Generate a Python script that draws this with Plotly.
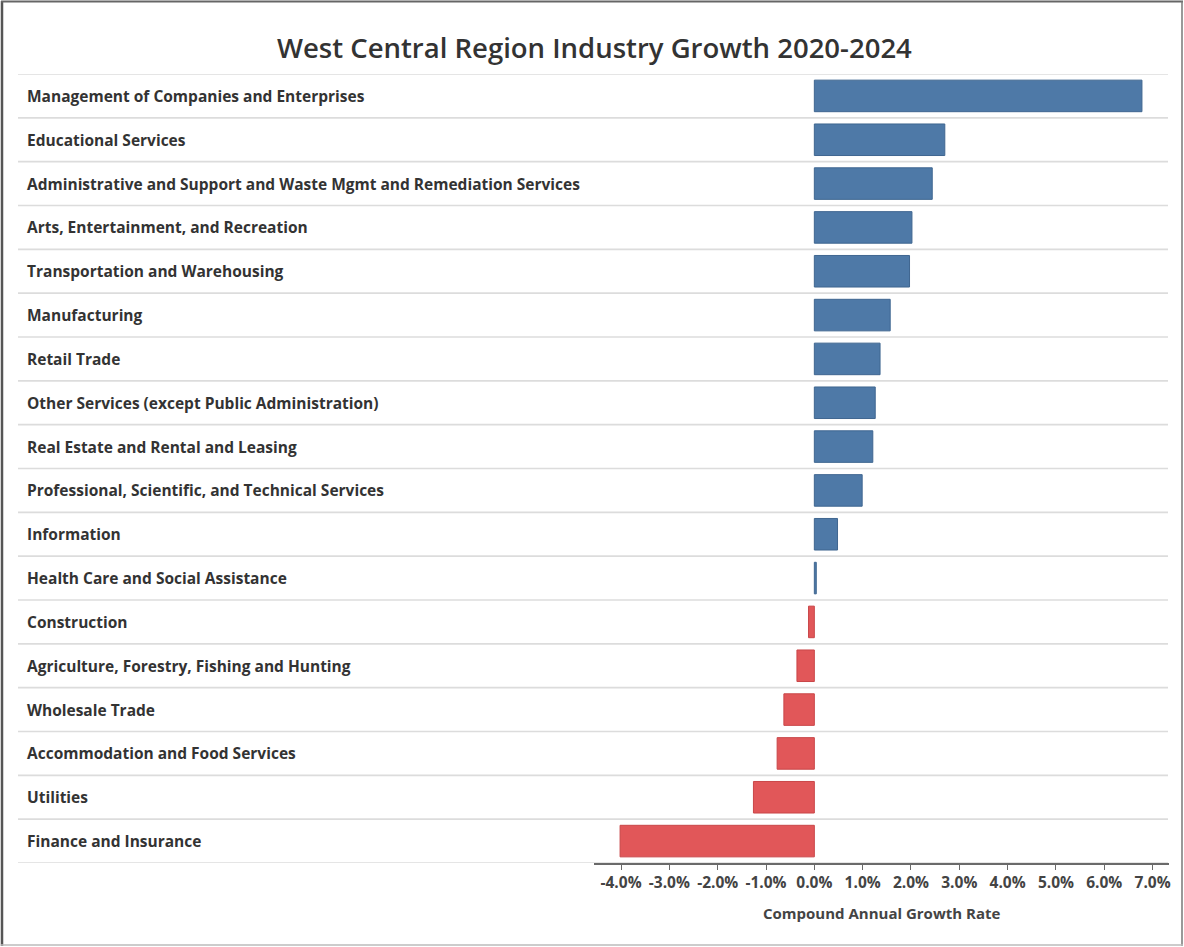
import plotly.graph_objects as go

# Industry growth, compound annual growth rate 2020-2024 (percent)
industries = [
    "Management of Companies and Enterprises",
    "Educational Services",
    "Administrative and Support and Waste Mgmt and Remediation Services",
    "Arts, Entertainment, and Recreation",
    "Transportation and Warehousing",
    "Manufacturing",
    "Retail Trade",
    "Other Services (except Public Administration)",
    "Real Estate and Rental and Leasing",
    "Professional, Scientific, and Technical Services",
    "Information",
    "Health Care and Social Assistance",
    "Construction",
    "Agriculture, Forestry, Fishing and Hunting",
    "Wholesale Trade",
    "Accommodation and Food Services",
    "Utilities",
    "Finance and Insurance",
]
cagr = [6.78, 2.70, 2.44, 2.02, 1.97, 1.57, 1.36, 1.26, 1.21, 0.99,
        0.48, 0.04, -0.12, -0.36, -0.63, -0.77, -1.26, -4.02]
tick_values = [-4, -3, -2, -1, 0, 1, 2, 3, 4, 5, 6, 7]
tick_labels = [f"{v:.1f}%" for v in tick_values]

W, H = 1184, 947
ML, MR, MT, MB = 594, 15, 74, 84
PW = W - ML - MR
PH = H - MT - MB
FONT = "Open Sans"


def px_x(p):
    """Page pixel column -> paper x."""
    return (p - ML) / PW


def px_y(p):
    """Page pixel row -> paper y."""
    return 1 - (p - MT) / PH


BLUE = "#4E79A7"
RED = "#E15759"
colors = [BLUE if v >= 0 else RED for v in cagr]
edges = ["#3f6690" if v >= 0 else "#c94648" for v in cagr]

fig = go.Figure(
    go.Bar(
        x=cagr,
        y=industries,
        orientation="h",
        width=0.72,
        marker=dict(color=colors, line=dict(color=edges, width=1)),
        hoverinfo="skip",
    )
)

shapes = []
# row separators spanning label column and plot area
for i in range(len(industries) + 1):
    shapes.append(dict(
        type="line", xref="paper", yref="y",
        x0=px_x(18), x1=px_x(1168), y0=i - 0.5, y1=i - 0.5,
        line=dict(color="#dcdcdc", width=1.6), layer="below",
    ))
# outer frame
shapes += [
    dict(type="line", xref="paper", yref="paper", x0=px_x(2), x1=px_x(2),
         y0=px_y(1), y1=px_y(946), line=dict(color="#555555", width=2.5)),
    dict(type="line", xref="paper", yref="paper", x0=px_x(1), x1=px_x(1183),
         y0=px_y(1.5), y1=px_y(1.5), line=dict(color="#666666", width=2)),
    dict(type="line", xref="paper", yref="paper", x0=px_x(1182), x1=px_x(1182),
         y0=px_y(1), y1=px_y(946), line=dict(color="#777777", width=1.5)),
    dict(type="line", xref="paper", yref="paper", x0=px_x(1), x1=px_x(1183),
         y0=px_y(945), y1=px_y(945), line=dict(color="#bbbbbb", width=1.5)),
]

annotations = [
    dict(text=name, xref="paper", yref="y", x=px_x(25), y=name,
         xanchor="left", yanchor="middle", showarrow=False,
         font=dict(family=FONT, size=15.5, color="#333333", weight=700))
    for name in industries
]
annotations.append(dict(
    text="West Central Region Industry Growth 2020-2024",
    xref="paper", yref="paper", x=px_x(594), y=px_y(47),
    xanchor="center", yanchor="middle", showarrow=False,
    font=dict(family=FONT, size=27.5, color="#333333", weight=600),
))
annotations.append(dict(
    text="Compound Annual Growth Rate",
    xref="paper", yref="paper", x=px_x(881), y=px_y(913),
    xanchor="center", yanchor="middle", showarrow=False,
    font=dict(family=FONT, size=15, color="#444444", weight=700),
))

fig.update_layout(
    width=W, height=H,
    margin=dict(l=ML, r=MR, t=MT, b=MB, pad=0),
    paper_bgcolor="white", plot_bgcolor="white",
    showlegend=False,
    shapes=shapes,
    annotations=annotations,
    xaxis=dict(
        range=[-4.56, 7.34],
        tickvals=tick_values, ticktext=tick_labels,
        showgrid=False, zeroline=False,
        showline=True, linecolor="#6a6a6a", linewidth=1.5,
        ticks="outside", ticklen=5, tickcolor="#6a6a6a", tickwidth=1,
        tickfont=dict(family=FONT, size=15.5, color="#444444", weight=700),
        fixedrange=True,
    ),
    yaxis=dict(
        range=[len(industries) - 0.5, -0.5],
        showticklabels=False, showgrid=False, zeroline=False,
        ticks="", showline=False, fixedrange=True,
    ),
)

fig.write_html("out.html")
